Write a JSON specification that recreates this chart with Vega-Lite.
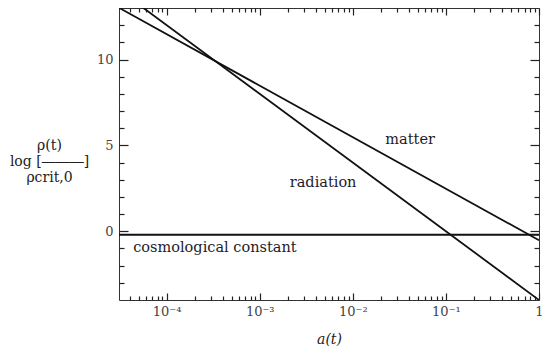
{
  "$schema": "https://vega.github.io/schema/vega-lite/v6.json",
  "width": 420,
  "height": 292,
  "autosize": {"type": "none"},
  "padding": {"left": 119, "top": 8, "right": 11, "bottom": 53},
  "config": {
    "view": {"stroke": "#333", "strokeWidth": 1},
    "font": "DejaVu Serif",
    "text": {"font": "DejaVu Serif"},
    "axis": {"grid": false, "domain": false, "tickColor": "#222", "tickWidth": 1.2, "labelFont": "DejaVu Serif", "titleFont": "DejaVu Serif", "labelColor": "#444", "titleColor": "#222", "labelFontSize": 13, "titleFontSize": 14, "titleFontWeight": "normal"}
  },
  "datasets": {
    "lines": [
      {"series": "matter", "a": 3.08e-5, "y": 13.01},
      {"series": "matter", "a": 1, "y": -0.52},
      {"series": "radiation", "a": 3.08e-5, "y": 14.05},
      {"series": "radiation", "a": 1, "y": -4.0},
      {"series": "lambda", "a": 3.08e-5, "y": -0.2},
      {"series": "lambda", "a": 1, "y": -0.2}
    ],
    "labels": [
      {"label": "matter", "a": 0.0413, "y": 5.3},
      {"label": "radiation", "a": 0.0048, "y": 2.8},
      {"label": "cosmological constant", "a": 0.00033, "y": -1.0}
    ]
  },
  "resolve": {"axis": {"x": "independent", "y": "independent"}},
  "layer": [
    {
      "data": {"name": "lines"},
      "mark": {"type": "line", "color": "#111", "strokeWidth": 1.8, "clip": true},
      "encoding": {
        "x": {"field": "a", "type": "quantitative",
              "scale": {"type": "log", "domain": [3.08e-5, 1], "nice": false},
              "axis": {"orient": "bottom", "values": [0.0001, 0.001, 0.01, 0.1, 1], "tickSize": -7, "labelPadding": 12,
                       "labelExpr": "datum.value > 0.5 ? '1' : datum.value > 0.05 ? '10⁻¹' : datum.value > 0.005 ? '10⁻²' : datum.value > 0.0005 ? '10⁻³' : '10⁻⁴'",
                       "title": "a(t)", "titleFontStyle": "italic", "titlePadding": 14, "labelFlush": false}},
        "y": {"field": "y", "type": "quantitative",
              "scale": {"domain": [-4, 13], "nice": false, "zero": false},
              "axis": {"orient": "left", "values": [0, 5, 10], "tickSize": -9, "labelPadding": 15,
                       "title": ["\u2002\u2002\u2002ρ(t)", "log [―――]", "\u2002\u2002\u2002ρcrit,0"],
                       "titleAngle": 0, "titleAlign": "center", "titleBaseline": "middle", "titleX": -70, "titleY": 137, "titleLineHeight": 16}},
        "detail": {"field": "series"}
      }
    },
    {
      "data": {"name": "labels"},
      "mark": {"type": "text", "font": "DejaVu Serif", "fontSize": 14.5, "color": "#1c1c2a", "align": "center", "baseline": "middle"},
      "encoding": {
        "x": {"field": "a", "type": "quantitative",
              "axis": {"orient": "bottom", "values": [4e-5, 5e-5, 6e-5, 7e-5, 8e-5, 9e-5, 2e-4, 3e-4, 4e-4, 5e-4, 6e-4, 7e-4, 8e-4, 9e-4, 2e-3, 3e-3, 4e-3, 5e-3, 6e-3, 7e-3, 8e-3, 9e-3, 2e-2, 3e-2, 4e-2, 5e-2, 6e-2, 7e-2, 8e-2, 9e-2, 0.2, 0.3, 0.4, 0.5, 0.6, 0.7, 0.8, 0.9], "tickSize": -4, "labels": false, "title": null}},
        "y": {"field": "y", "type": "quantitative",
              "axis": {"orient": "left", "values": [-3, -2, -1, 1, 2, 3, 4, 6, 7, 8, 9, 11, 12], "tickSize": -5, "labels": false, "title": null}},
        "text": {"field": "label"}
      }
    },
    {
      "data": {"name": "lines"},
      "mark": {"type": "line", "opacity": 0},
      "encoding": {
        "x": {"field": "a", "type": "quantitative",
              "axis": {"orient": "top", "values": [0.0001, 0.001, 0.01, 0.1, 1], "tickSize": -7, "labels": false, "title": null}},
        "y": {"field": "y", "type": "quantitative",
              "axis": {"orient": "right", "values": [0, 5, 10], "tickSize": -9, "labels": false, "title": null}},
        "detail": {"field": "series"}
      }
    },
    {
      "data": {"name": "lines"},
      "mark": {"type": "line", "opacity": 0},
      "encoding": {
        "x": {"field": "a", "type": "quantitative",
              "axis": {"orient": "top", "values": [4e-5, 5e-5, 6e-5, 7e-5, 8e-5, 9e-5, 2e-4, 3e-4, 4e-4, 5e-4, 6e-4, 7e-4, 8e-4, 9e-4, 2e-3, 3e-3, 4e-3, 5e-3, 6e-3, 7e-3, 8e-3, 9e-3, 2e-2, 3e-2, 4e-2, 5e-2, 6e-2, 7e-2, 8e-2, 9e-2, 0.2, 0.3, 0.4, 0.5, 0.6, 0.7, 0.8, 0.9], "tickSize": -4, "labels": false, "title": null}},
        "y": {"field": "y", "type": "quantitative",
              "axis": {"orient": "right", "values": [-3, -2, -1, 1, 2, 3, 4, 6, 7, 8, 9, 11, 12], "tickSize": -5, "labels": false, "title": null}},
        "detail": {"field": "series"}
      }
    }
  ]
}
